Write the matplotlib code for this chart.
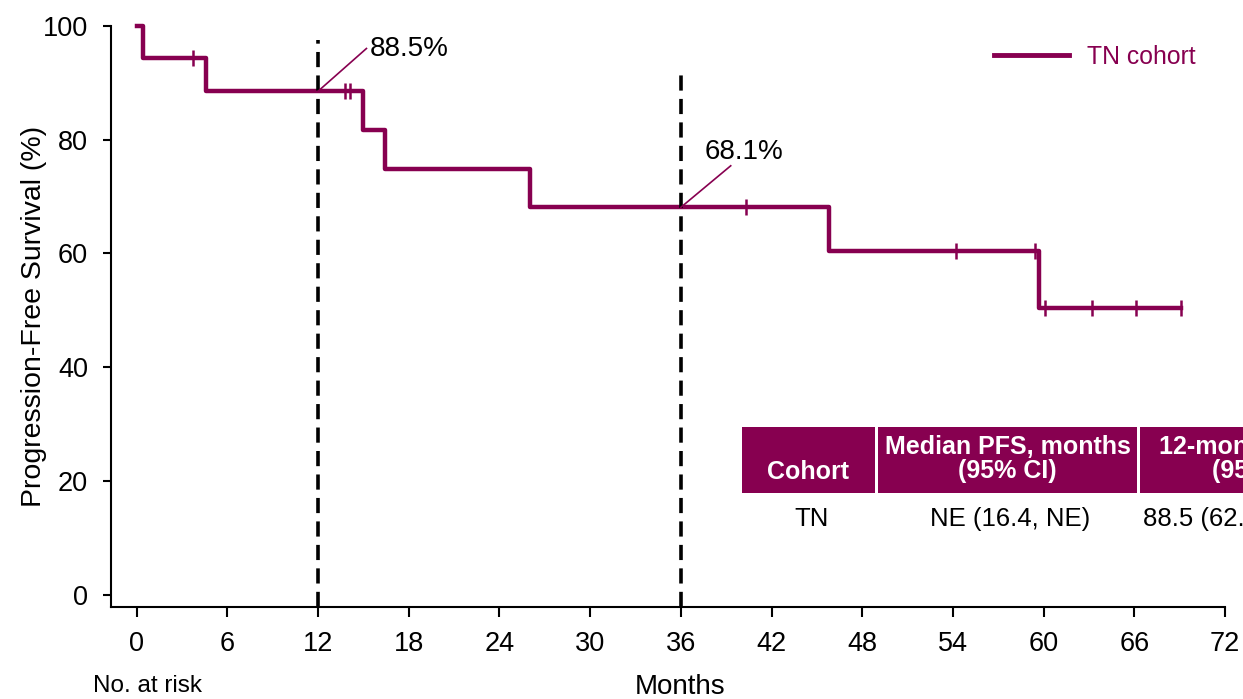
import matplotlib
matplotlib.use("Agg")
import matplotlib.pyplot as plt
from matplotlib.patches import Rectangle
import numpy as np

plt.rcParams["font.family"] = ["Liberation Sans", "DejaVu Sans"]

# Kaplan-Meier estimate, TN cohort
step_times = [0.0, 0.4, 4.6, 15.0, 16.4, 26.0, 45.8, 59.7]
step_surv = [100.0, 94.4, 88.5, 81.7, 74.9, 68.1, 60.5, 50.4]
censor_times = [3.75, 13.8, 14.1, 40.3, 54.2, 59.4, 60.1, 63.2, 66.1, 69.1]
last_followup = 69.1

landmarks = [12, 36]
landmark_surv = [88.5, 68.1]

xticks = np.arange(0, 73, 6)
yticks = [0, 20, 40, 60, 80, 100]

cohort_label = "TN cohort"
table_header = ["Cohort", "Median PFS, months\n(95% CI)", "12-month PFS, %\n(95% CI)"]
table_row = ["TN", "NE (16.4, NE)", "88.5 (62.0, 96.9)"]

maroon = "#870050"

fig = plt.figure(figsize=(12.43, 6.99), dpi=100)
ax = fig.add_axes([0.0893, 0.1316, 0.8962, 0.8316])

# survival curve
t = step_times + [last_followup]
s = step_surv + [step_surv[-1]]
ax.step(t, s, where="post", color=maroon, lw=3.2, label=cohort_label,
        clip_on=False, zorder=3)

# censor marks
idx = np.searchsorted(step_times, censor_times, side="right") - 1
cens_y = np.array(step_surv)[idx]
ax.plot(censor_times, cens_y, ls="none", marker="|", ms=11, mew=1.8,
        color=maroon, zorder=3)

ylo = -2.1
ax.set_xlim(-1.7, 72)
ax.set_ylim(ylo, 100)

# landmark lines with labels
dash_tops = [97.5, 92.6]
for lm, val, top in zip(landmarks, landmark_surv, dash_tops):
    ax.plot([lm, lm], [ylo, top], color="black", lw=2.6, ls=(0, (4.2, 2.3)),
            clip_on=False, zorder=4)
ax.plot([12, 15.2], [landmark_surv[0], 96.0], color=maroon, lw=1.2, zorder=4)
ax.text(15.45, 95.9, f"{landmark_surv[0]}%", fontsize=20, va="center", ha="left")
ax.plot([36, 39.3], [landmark_surv[1], 75.4], color=maroon, lw=1.2, zorder=4)
ax.text(37.6, 77.9, f"{landmark_surv[1]}%", fontsize=20, va="center", ha="left")

ax.set_xticks(xticks)
ax.set_yticks(yticks)
ax.spines["top"].set_visible(False)
ax.spines["right"].set_visible(False)
for sp in ("left", "bottom"):
    ax.spines[sp].set_linewidth(1.5)
ax.tick_params(axis="x", direction="out", length=7.5, width=1.5, pad=9.5,
               labelsize=19.5)
ax.tick_params(axis="y", direction="out", length=5.5, width=1.5, pad=11,
               labelsize=19.5)

ax.set_ylabel("Progression-Free Survival (%)", fontsize=20.5, labelpad=-3)
ax.set_xlabel("Months", fontsize=20)
ax.xaxis.set_label_coords(0.5108, -0.1150)
ax.text(-0.0162, -0.1457, "No. at risk", fontsize=17.5, transform=ax.transAxes,
        ha="left", va="baseline", clip_on=False)

leg = ax.legend(loc="center left", bbox_to_anchor=(0.7926, 0.9467),
                frameon=False, fontsize=17.8, handlelength=3.05,
                handletextpad=0.7, borderpad=0, borderaxespad=0,
                labelcolor=maroon)
leg.get_lines()[0].set_linewidth(3.5)

# summary table
cell_x = [(0.5664, 0.6858), (0.6885, 0.9210), (0.9237, 1.1436)]
head_y0, head_y1 = 0.1961, 0.3097
for (x0, x1) in cell_x:
    ax.add_patch(Rectangle((x0, head_y0), x1 - x0, head_y1 - head_y0,
                           transform=ax.transAxes, facecolor=maroon,
                           edgecolor="none", clip_on=False, zorder=5))
head_pos = [(0.6261, 0.2322), (0.8048, 0.2540), (1.0323, 0.2540)]
for (hx, hy), txt in zip(head_pos, table_header):
    ax.text(hx, hy, txt, transform=ax.transAxes, ha="center", va="center",
            color="white", fontsize=18, fontweight="bold", linespacing=1.0,
            clip_on=False, zorder=6)
row_x = [0.6293, 0.8070, 1.0108]
for rx, txt in zip(row_x, table_row):
    ax.text(rx, 0.1514, txt, transform=ax.transAxes, ha="center", va="center",
            fontsize=18.5, clip_on=False, zorder=6)

fig.savefig("out.png", dpi=100)
